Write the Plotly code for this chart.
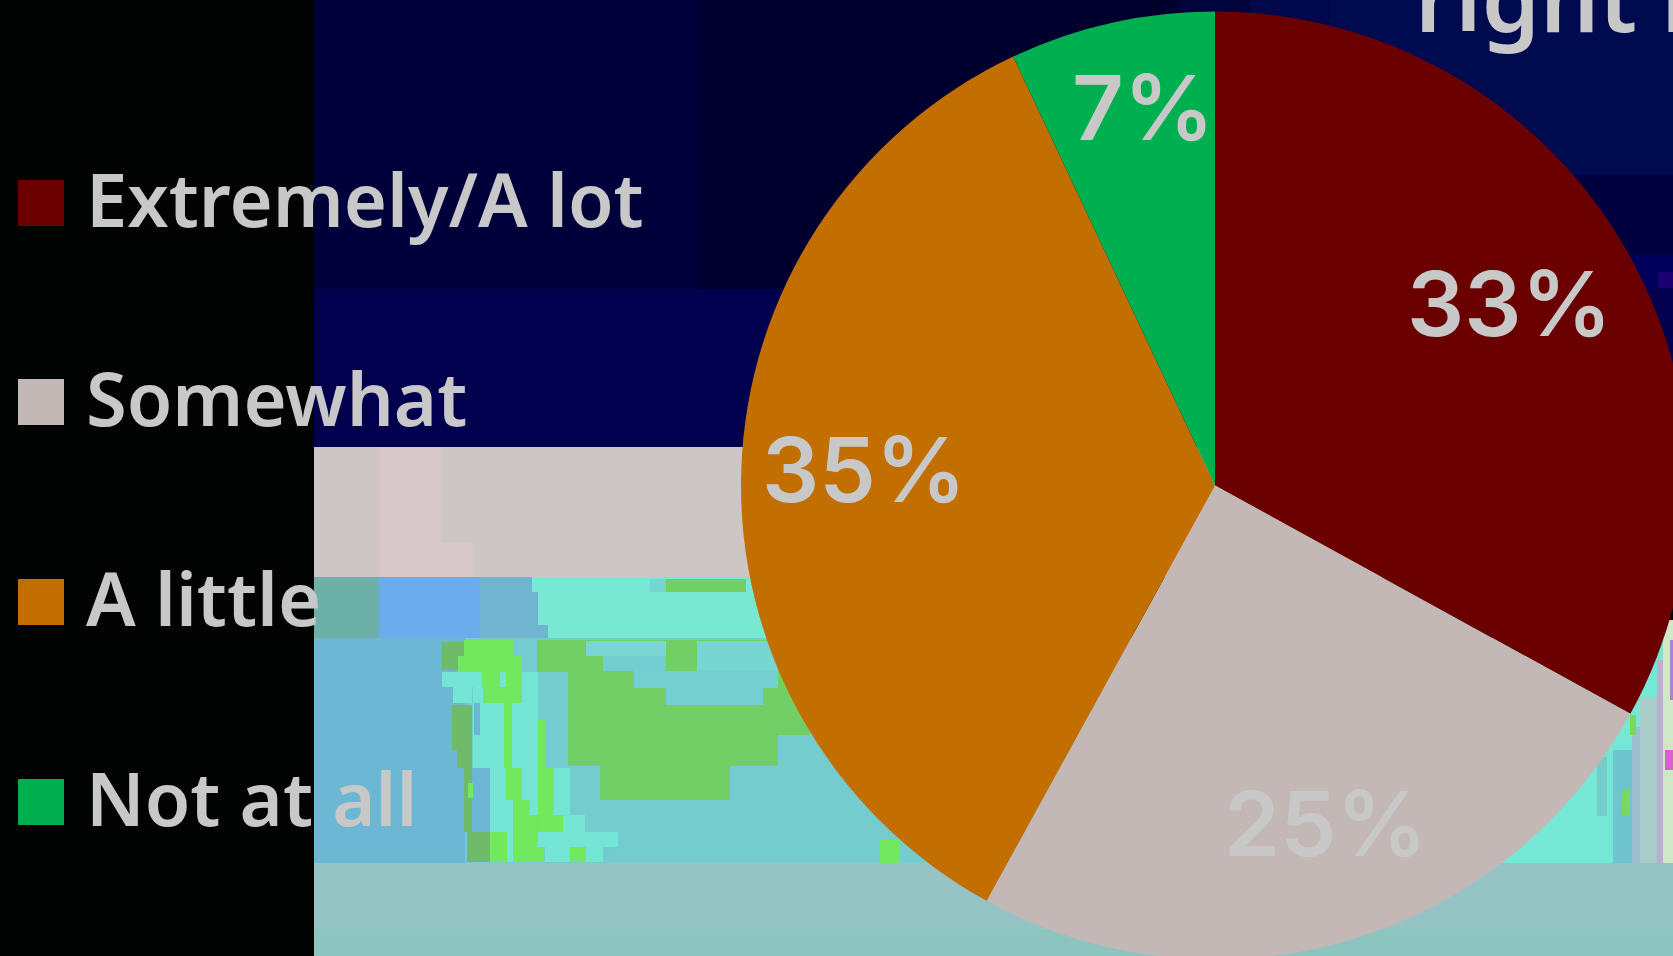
import plotly.graph_objects as go

# ---- chart data ----
categories = ["Extremely/A lot", "Somewhat", "A little", "Not at all"]
values = [33, 25, 35, 7]
colors = ["#6b0000", "#c4b8b6", "#c36e00", "#00b050"]
heading = "right now"

W, H = 1700, 960
TEXT = "#c8c8c8"
FONT = "Noto Sans"
FONT2 = "Inter"

DULL, BRIGHT, MID, CYAN, TEAL, BLUE = "#6fbb6a", "#72e85f", "#72cf65", "#74e4d4", "#74cccf", "#6cb8d4"

# backdrop patches: x0, y0, x1, y1, colour (page pixels)
backdrop = [
    (0, 0, 1700, 960, "#020404"),
    (314, 0, 700, 289, "#00003a"), (700, 0, 1180, 289, "#00002f"),
    (1180, 0, 1250, 255, "#00043a"), (1250, 0, 1330, 255, "#00074a"),
    (1330, 0, 1700, 175, "#000a4e"), (1330, 175, 1700, 255, "#000040"), (1180, 255, 1700, 289, "#00005a"),
    (1658, 272, 1700, 288, "#1a0070"),
    (314, 289, 1700, 447, "#00004f"),
    (314, 447, 1700, 577, "#cec6c5"), (379, 447, 442, 577, "#d8c7c8"), (442, 543, 474, 577, "#d8c7c8"),
    # band under the pale strip
    (314, 577, 379, 638, "#6cb0a8"), (379, 577, 480, 638, "#6cacec"),
    (480, 577, 800, 638, "#78e8d2"), (480, 577, 532, 592, "#70b4d0"), (480, 592, 538, 625, "#70b4d0"), (480, 625, 548, 638, "#70b4d0"),
    (666, 579, 746, 592, MID), (650, 579, 666, 592, "#78d4d0"),
    # big mottled band
    (314, 638, 465, 863, BLUE),
    (465, 638, 1700, 863, TEAL),
    (537, 640, 810, 766, MID), (600, 766, 730, 800, MID),
    (586, 641, 666, 656, "#7ad6d2"), (603, 656, 666, 671, "#72cdd0"), (634, 671, 778, 688, "#74cfd0"),
    (666, 688, 763, 705, "#74cfd0"), (697, 641, 778, 671, "#78d6d0"),
    (795, 735, 810, 766, TEAL), (778, 735, 810, 766, TEAL),
    (513, 642, 537, 672, TEAL), (538, 672, 568, 768, TEAL), (532, 703, 545, 720, TEAL),
    (442, 642, 464, 670, DULL), (452, 705, 472, 750, DULL), (457, 750, 472, 768, DULL),
    (464, 768, 472, 832, DULL), (467, 832, 496, 862, DULL),
    (464, 640, 513, 656, BRIGHT), (458, 656, 522, 672, BRIGHT), (482, 672, 522, 705, BRIGHT),
    (442, 672, 482, 687, CYAN), (453, 687, 472, 703, CYAN), (473, 687, 483, 703, CYAN),
    (500, 672, 506, 687, CYAN),
    (473, 703, 504, 768, CYAN), (474, 703, 480, 735, BLUE),
    (504, 705, 512, 768, BRIGHT), (512, 703, 538, 768, CYAN), (522, 672, 538, 703, CYAN),
    (538, 720, 545, 768, BRIGHT),
    (472, 768, 490, 832, BLUE), (468, 783, 473, 798, BRIGHT),
    (490, 768, 506, 832, CYAN), (506, 800, 513, 832, CYAN),
    (506, 768, 522, 800, BRIGHT), (513, 800, 530, 815, BRIGHT), (513, 815, 537, 835, BRIGHT), (513, 835, 544, 862, BRIGHT),
    (522, 768, 538, 800, CYAN), (530, 800, 538, 815, CYAN),
    (538, 768, 554, 815, BRIGHT), (538, 815, 563, 832, BRIGHT),
    (490, 832, 507, 862, BRIGHT), (507, 832, 513, 862, CYAN),
    (554, 768, 570, 815, CYAN), (563, 815, 585, 832, CYAN), (538, 832, 618, 847, CYAN),
    (545, 847, 570, 862, CYAN), (570, 847, 586, 862, BRIGHT), (586, 847, 603, 862, CYAN), (603, 847, 616, 862, "#70ccd0"),
    (880, 840, 900, 863, BRIGHT),
    # right-hand streaks
    (1500, 638, 1700, 863, "#74e8d4"),
    (1597, 757, 1607, 816, "#74cccc"), (1613, 750, 1632, 863, "#70c4d0"), (1632, 727, 1640, 863, "#9cc0d0"),
    (1630, 715, 1636, 735, "#7cd85c"), (1622, 790, 1630, 815, "#7cd85c"),
    (1640, 697, 1657, 863, "#a8ccc8"), (1657, 660, 1663, 863, "#b8b0d0"), (1663, 620, 1700, 863, "#d0e8c8"),
    (1670, 640, 1700, 700, "#b080d0"), (1665, 750, 1700, 770, "#d860d0"),
    # bottom band
    (314, 863, 1700, 930, "#96c3c4"), (314, 930, 1700, 960, "#8cc4c0"),
]

# legend geometry in page pixels
swatch_x0, swatch_x1 = 18, 64
swatch_tops = [180, 379, 579, 779]
swatch_size = 46
legend_text_x = 85
# where the percentage labels sit, page pixels, in slice order
label_centres = [(1509, 303), (1325, 823), (864, 469), (1143, 107)]


def px(x):
    return x / W


def py(y):
    return 1 - y / H


shapes = [
    dict(type="rect", xref="paper", yref="paper", x0=px(a), y0=py(b), x1=px(c), y1=py(d),
         fillcolor=col, line=dict(width=0), layer="below")
    for a, b, c, d, col in backdrop
]
annotations = []
for cat, col, top in zip(categories, colors, swatch_tops):
    shapes.append(dict(type="rect", xref="paper", yref="paper", x0=px(swatch_x0), x1=px(swatch_x1),
                       y0=py(top), y1=py(top + swatch_size), fillcolor=col, line=dict(width=0), layer="below"))
    annotations.append(dict(text=cat, xref="paper", yref="paper", x=px(legend_text_x), y=py(top + swatch_size / 2 - 5),
                            xanchor="left", yanchor="middle", showarrow=False, borderpad=0,
                            font=dict(family=FONT, size=74, color=TEXT, weight=600)))
for v, (cx, cy) in zip(values, label_centres):
    annotations.append(dict(text=f"{v}%", xref="paper", yref="paper", x=px(cx), y=py(cy), xanchor="center", yanchor="middle",
                            showarrow=False, borderpad=0, font=dict(family=FONT2, size=90, color=TEXT, weight=600)))
annotations.append(dict(text=heading, xref="paper", yref="paper", x=px(1414), y=py(60), xanchor="left", yanchor="bottom",
                        showarrow=False, borderpad=0, font=dict(family=FONT, size=93, color=TEXT, weight=600)))

fig = go.Figure(go.Pie(
    labels=categories, values=values, sort=False, direction="clockwise", rotation=0,
    marker=dict(colors=colors, line=dict(width=0)),
    textinfo="none",
    domain=dict(x=[741 / W, 1689 / W], y=[1 - 959.5 / H, 1 - 11.5 / H]),
    showlegend=False, hoverinfo="label+percent",
))
fig.update_layout(width=W, height=H, autosize=False, margin=dict(l=0, r=0, t=0, b=0, pad=0),
                  paper_bgcolor="#020404", shapes=shapes, annotations=annotations, showlegend=False)
fig.write_html("out.html", config={"displayModeBar": False},
               post_script="document.documentElement.style.overflow='hidden';document.body.style.overflow='hidden';document.body.style.margin='0';")
